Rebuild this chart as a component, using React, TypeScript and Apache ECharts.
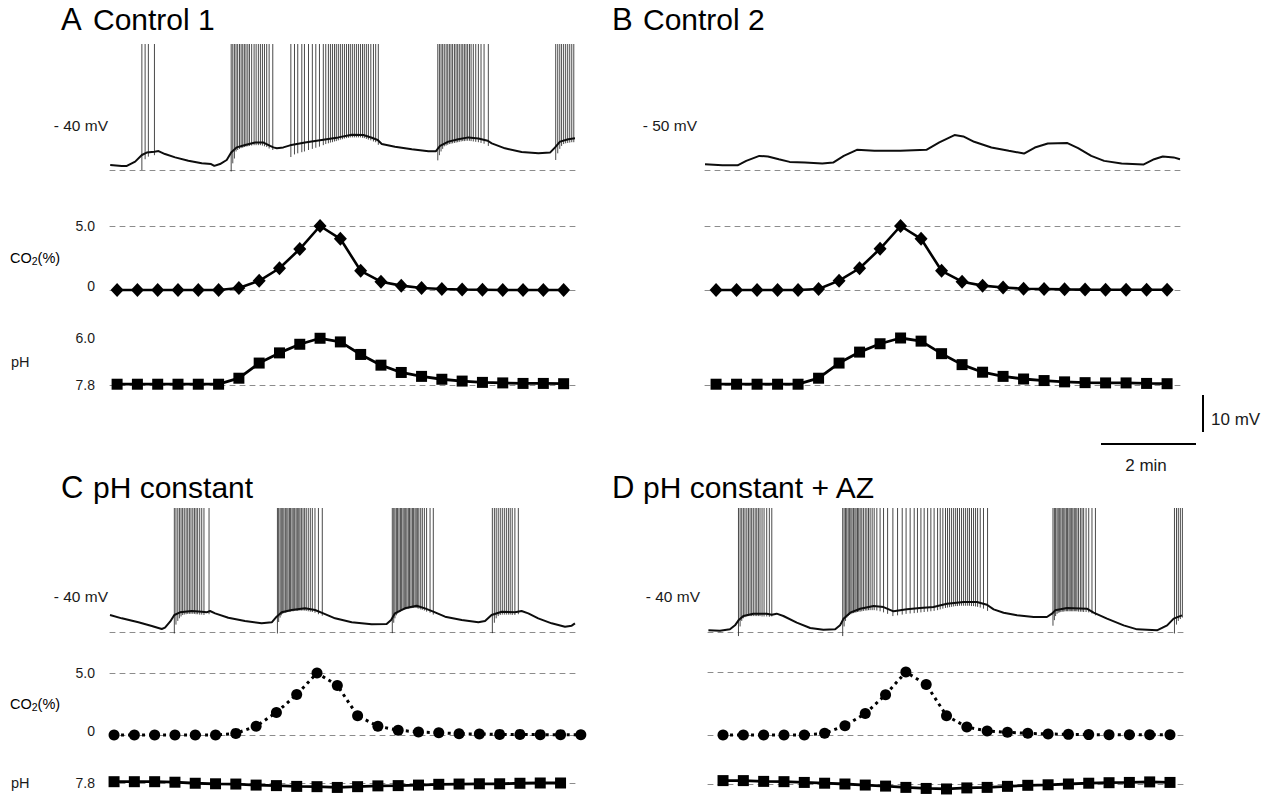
import React, { useEffect, useRef } from 'react';
import * as echarts from 'echarts';

// ---------- DATA (x in sample units: one CO2/pH reading per sample) ----------
// CO2 (%) readings
const co2A = [0, 0, 0, 0, 0, 0, 0.15, 0.72, 1.7, 3.2, 5.0, 4.0, 1.5, 0.65, 0.34, 0.16, 0.08, 0.04, 0.02, 0, 0, 0, 0];
const co2B = [0, 0, 0, 0, 0, 0.08, 0.73, 1.7, 3.22, 5.0, 4.0, 1.5, 0.65, 0.34, 0.2, 0.1, 0.08, 0.05, 0.03, 0.02, 0.02, 0.02, 0.02];
const co2C = [0, 0, 0, 0, 0, 0, 0.13, 0.71, 1.82, 3.26, 5.0, 4.0, 1.55, 0.71, 0.39, 0.24, 0.18, 0.1, 0.08, 0.05, 0.05, 0.03, 0.03, 0.02];
const co2D = [0, 0, 0, 0, 0, 0.13, 0.74, 1.7, 3.2, 5.0, 4.0, 1.53, 0.63, 0.32, 0.21, 0.13, 0.08, 0.05, 0.03, 0.02, 0.02, 0.02, 0.02];

// pH readings
const phA = [7.77, 7.77, 7.77, 7.77, 7.77, 7.77, 7.54, 6.96, 6.57, 6.24, 6.01, 6.15, 6.63, 7.04, 7.32, 7.47, 7.58, 7.65, 7.7, 7.72, 7.74, 7.74, 7.75];
const phB = [7.77, 7.77, 7.77, 7.77, 7.77, 7.54, 6.96, 6.54, 6.22, 6.0, 6.12, 6.6, 7.02, 7.31, 7.47, 7.57, 7.63, 7.68, 7.71, 7.72, 7.72, 7.74, 7.75];
const phC = [7.75, 7.75, 7.75, 7.77, 7.81, 7.83, 7.84, 7.88, 7.9, 7.93, 7.94, 7.97, 7.94, 7.91, 7.9, 7.88, 7.85, 7.84, 7.83, 7.83, 7.81, 7.8, 7.8];
const phD = [7.67, 7.67, 7.7, 7.71, 7.74, 7.77, 7.8, 7.84, 7.88, 7.93, 7.97, 7.99, 7.95, 7.93, 7.89, 7.85, 7.83, 7.8, 7.77, 7.75, 7.74, 7.72, 7.74];

// Membrane potential, slow envelope [sample, mV]
const envA = [[-0.34, -50.65], [0.23, -50.9], [0.48, -50.9], [0.89, -49.75], [1.22, -47.95], [1.46, -47.3], [1.84, -47.05], [2.04, -46.9], [2.36, -47.7], [2.86, -48.6], [3.51, -49.5], [4.17, -50.2], [4.63, -50.4], [4.79, -50.9], [5.07, -50.4], [5.4, -49.3], [5.62, -47.3], [5.89, -45.9], [6.31, -45.25], [6.8, -44.6], [7.21, -44.6], [7.54, -45.5], [7.7, -45.9], [7.87, -46.15], [8.19, -45.9], [8.52, -45.35], [9.26, -44.6], [10.08, -43.9], [10.9, -43.2], [11.56, -42.5], [12.13, -42.55], [12.55, -43.3], [12.84, -43.9], [13.04, -45.0], [13.69, -45.7], [14.52, -46.4], [15.34, -46.95], [15.7, -46.95], [15.91, -45.5], [16.32, -44.35], [16.81, -43.7], [17.31, -43.2], [17.8, -43.5], [18.26, -44.1], [18.46, -44.8], [19.11, -46.15], [19.93, -47.15], [20.76, -47.5], [21.33, -47.3], [21.58, -45.9], [21.82, -44.35], [22.23, -43.7], [22.56, -43.45]];
const envB = [[-0.54, -60.46], [0.31, -60.73], [1.05, -60.73], [1.47, -59.54], [2.11, -58.2], [2.53, -58.36], [3.06, -59.09], [3.59, -59.81], [4.33, -60.0], [5.18, -60.27], [5.71, -60.0], [6.23, -58.2], [6.87, -56.55], [7.72, -56.82], [8.99, -56.82], [10.26, -56.55], [10.89, -54.55], [11.63, -52.58], [12.06, -52.93], [12.59, -54.39], [13.43, -55.93], [14.28, -56.82], [15.02, -57.55], [15.55, -55.93], [16.18, -54.85], [17.14, -54.74], [17.66, -56.12], [18.3, -58.2], [18.93, -59.54], [19.78, -60.27], [20.84, -60.54], [21.37, -59.09], [21.79, -58.36], [22.32, -58.6], [22.63, -59.09]];
const envC = [[-0.2, -44.91], [0.38, -45.81], [1.2, -46.89], [1.86, -47.88], [2.35, -48.69], [2.51, -48.33], [2.76, -46.71], [2.97, -44.91], [3.25, -44.19], [3.83, -43.83], [4.32, -44.01], [4.56, -44.19], [4.73, -43.83], [4.98, -44.46], [5.63, -45.63], [6.45, -46.53], [7.27, -47.16], [7.77, -46.89], [8.01, -45.36], [8.26, -44.19], [8.75, -43.56], [9.41, -43.11], [9.9, -43.56], [10.31, -44.46], [10.89, -45.81], [11.71, -46.89], [12.69, -47.43], [13.43, -47.34], [13.65, -46.26], [13.84, -44.46], [14.33, -43.11], [14.91, -42.4], [15.32, -43.11], [15.73, -44.01], [16.31, -45.36], [17.13, -46.26], [17.95, -46.89], [18.28, -46.53], [18.6, -44.91], [19.1, -44.01], [19.75, -44.19], [20.08, -43.83], [20.41, -44.46], [20.9, -45.81], [21.56, -47.16], [22.22, -48.06], [22.55, -47.79], [22.71, -47.16]];
const envD = [[-0.72, -49.05], [-0.15, -49.14], [0.34, -48.78], [0.59, -47.7], [0.76, -46.35], [1.0, -45.18], [1.49, -44.55], [2.15, -44.55], [2.4, -44.82], [2.64, -44.55], [2.97, -45.18], [3.63, -46.98], [4.29, -48.42], [4.94, -48.87], [5.52, -48.78], [5.76, -47.7], [5.93, -45.9], [6.26, -44.28], [6.75, -43.21], [7.41, -42.49], [7.9, -42.76], [8.39, -43.92], [9.05, -43.38], [9.7, -43.03], [10.36, -42.76], [11.02, -41.86], [11.84, -41.41], [12.5, -41.41], [12.99, -42.13], [13.32, -43.38], [13.81, -44.28], [14.47, -45.0], [15.29, -45.45], [15.94, -45.45], [16.19, -44.55], [16.35, -43.65], [16.93, -43.03], [17.91, -43.21], [18.24, -44.28], [18.9, -45.9], [19.72, -47.7], [20.38, -48.78], [21.36, -49.05], [21.86, -47.7], [22.18, -45.9], [22.59, -45.0]];

// Action potentials [sample, trough mV]; each spike rises to the top of its trace
const spikesA = [
  [1.22, -52.0], [1.38, -49.1], [1.54, -48.4], [1.84, -48.0],
  [5.62, -52.4], [5.7, -50.2], [5.78, -48.9], [5.86, -47.0], [5.94, -46.6], [6.03, -46.3], [6.11, -46.1], [6.19, -46.0], [6.27, -45.8], [6.35, -45.7], [6.44, -45.6], [6.52, -45.5], [6.63, -45.4], [6.75, -45.3], [6.85, -45.3], [6.96, -45.3], [7.06, -45.3], [7.16, -45.4], [7.26, -45.6], [7.37, -45.8], [7.49, -46.2], [7.67, -46.6],
  [8.56, -48.5], [8.74, -47.8], [8.9, -47.5], [9.1, -47.2], [9.23, -47.0], [9.43, -46.6], [9.62, -46.3], [9.79, -46.0], [9.97, -45.7], [10.16, -45.3], [10.28, -45.0], [10.41, -44.8], [10.51, -44.6], [10.61, -44.5], [10.71, -44.3], [10.8, -44.2], [10.9, -44.0], [11.0, -43.8], [11.1, -43.7], [11.2, -43.5], [11.3, -43.4], [11.4, -43.3], [11.49, -43.2], [11.59, -43.2], [11.69, -43.2], [11.79, -43.2], [11.89, -43.2], [11.99, -43.2], [12.09, -43.3], [12.18, -43.4], [12.28, -43.6], [12.38, -43.8], [12.5, -44.0], [12.63, -44.3], [12.74, -44.5], [12.87, -45.2],
  [15.8, -49.4], [15.88, -48.0], [15.96, -47.0], [16.04, -46.3], [16.12, -45.6], [16.21, -45.4], [16.29, -45.2], [16.37, -45.0], [16.45, -44.9], [16.53, -44.8], [16.62, -44.7], [16.7, -44.6], [16.78, -44.5], [16.86, -44.4], [16.95, -44.3], [17.03, -44.2], [17.11, -44.2], [17.19, -44.1], [17.27, -44.1], [17.36, -44.1], [17.44, -44.2], [17.55, -44.3], [17.67, -44.4], [17.8, -44.5], [17.93, -44.7], [18.08, -44.9], [18.29, -45.5],
  [21.61, -49.3], [21.71, -47.5], [21.81, -46.3], [21.9, -45.5], [22.0, -45.0], [22.1, -44.8], [22.2, -44.7], [22.3, -44.6], [22.4, -44.5], [22.5, -44.5],
];
const spikesB: number[][] = [];
const spikesC = [
  [2.97, -49.9], [3.05, -47.5], [3.14, -46.5], [3.22, -45.8], [3.3, -45.3], [3.38, -44.9], [3.46, -44.8], [3.55, -44.7], [3.63, -44.6], [3.71, -44.6], [3.79, -44.6], [3.88, -44.6], [3.96, -44.6], [4.04, -44.7], [4.12, -44.7], [4.22, -44.8], [4.32, -44.8], [4.43, -44.9], [4.68, -44.7],
  [8.05, -49.9], [8.11, -46.8], [8.18, -45.6], [8.24, -45.0], [8.31, -44.6], [8.37, -44.4], [8.44, -44.3], [8.51, -44.2], [8.57, -44.1], [8.64, -44.0], [8.7, -44.0], [8.77, -43.9], [8.83, -43.9], [8.9, -43.8], [8.97, -43.8], [9.03, -43.8], [9.1, -43.7], [9.16, -43.7], [9.23, -43.7], [9.31, -43.7], [9.39, -43.7], [9.47, -43.8], [9.57, -43.9], [9.67, -44.0], [9.77, -44.1], [9.9, -44.3], [10.07, -44.7], [10.26, -45.1],
  [13.71, -49.8], [13.78, -47.0], [13.84, -45.8], [13.91, -45.0], [13.97, -44.5], [14.04, -44.2], [14.11, -44.0], [14.17, -43.8], [14.24, -43.6], [14.3, -43.5], [14.37, -43.4], [14.43, -43.3], [14.5, -43.2], [14.56, -43.1], [14.63, -43.1], [14.7, -43.0], [14.76, -43.0], [14.83, -43.0], [14.89, -43.0], [14.96, -43.1], [15.02, -43.2], [15.11, -43.4], [15.19, -43.5], [15.29, -43.7], [15.4, -44.0], [15.57, -44.3], [15.73, -44.8],
  [18.64, -49.8], [18.74, -47.0], [18.83, -45.8], [18.93, -45.2], [19.03, -44.9], [19.13, -44.8], [19.23, -44.8], [19.33, -44.8], [19.43, -44.8], [19.52, -44.8], [19.62, -44.9], [19.75, -44.9], [19.92, -44.7],
];
const spikesD = [
  [0.76, -50.6], [0.84, -48.0], [0.92, -46.5], [1.0, -45.8], [1.08, -45.5], [1.17, -45.3], [1.25, -45.2], [1.33, -45.2], [1.41, -45.2], [1.49, -45.2], [1.58, -45.2], [1.66, -45.2], [1.74, -45.2], [1.82, -45.2], [1.92, -45.3], [2.02, -45.3], [2.15, -45.3], [2.28, -45.4], [2.4, -45.3],
  [5.89, -50.6], [5.96, -48.0], [6.03, -46.5], [6.09, -45.6], [6.16, -45.2], [6.22, -44.9], [6.29, -44.7], [6.35, -44.5], [6.42, -44.4], [6.49, -44.3], [6.55, -44.2], [6.62, -44.1], [6.68, -44.0], [6.75, -44.0], [6.83, -43.9], [6.91, -43.8], [7.0, -43.7], [7.08, -43.7], [7.16, -43.6], [7.24, -43.6], [7.34, -43.6], [7.44, -43.6], [7.57, -43.7], [7.73, -43.9], [7.9, -44.2], [8.1, -44.6], [8.36, -45.2], [8.59, -45.0], [8.82, -44.8], [9.01, -44.6], [9.21, -44.5], [9.41, -44.4], [9.57, -44.3], [9.74, -44.2], [9.9, -44.1], [10.07, -44.0], [10.23, -43.9], [10.39, -43.8], [10.56, -43.6], [10.69, -43.4], [10.82, -43.2], [10.95, -43.0], [11.05, -42.9], [11.15, -42.8], [11.25, -42.7], [11.35, -42.6], [11.45, -42.5], [11.54, -42.5], [11.64, -42.4], [11.74, -42.4], [11.84, -42.4], [11.94, -42.4], [12.04, -42.4], [12.13, -42.4], [12.23, -42.5], [12.33, -42.5], [12.43, -42.6], [12.53, -42.7], [12.66, -42.9], [12.82, -43.2], [13.02, -43.8],
  [16.24, -47.8], [16.31, -46.3], [16.37, -45.2], [16.44, -44.6], [16.5, -44.3], [16.57, -44.2], [16.63, -44.1], [16.7, -44.0], [16.77, -44.0], [16.83, -43.9], [16.9, -43.9], [16.96, -43.9], [17.03, -43.9], [17.09, -43.9], [17.16, -43.9], [17.22, -43.9], [17.29, -43.9], [17.36, -43.9], [17.42, -43.9], [17.5, -44.0], [17.59, -44.0], [17.67, -44.0], [17.75, -44.1], [17.87, -44.1], [18.0, -44.2], [18.16, -44.5], [18.33, -45.0],
  [22.22, -49.9], [22.32, -47.5], [22.41, -46.5], [22.51, -46.0], [22.61, -45.6],
];

// Texts
const titles = [
  { letter: 'A', name: 'Control 1' },
  { letter: 'B', name: 'Control 2' },
  { letter: 'C', name: 'pH constant' },
  { letter: 'D', name: 'pH constant + AZ' },
];
const potentialLabels = ['- 40 mV', '- 50 mV', '- 40 mV', '- 40 mV'];
const potentialLabelValues = [-40, -50, -40, -40];

// ---------- LAYOUT ----------
const FONT = '"Liberation Sans", Arial, Helvetica, sans-serif';
const INK = '#0d0d0d';

const layouts = [
  { left: 110, width: 465, xMin: -0.35, xMax: 22.56, tTop: 44, tH: 126, vMin: -52, vMax: -18, vMargin: 2, cTop: 226, cH: 64, pTop: 338, pH: 47, co2Labels: true, phLabels: [6.0, 7.8], circles: false, tx: 61, wx: 93, ty: 19 },
  { left: 705, width: 475, xMin: -0.54, xMax: 22.63, tTop: 44, tH: 126, vMin: -62, vMax: -28, vMargin: 8, cTop: 226, cH: 64, pTop: 338, pH: 47, co2Labels: false, phLabels: [] as number[], circles: false, tx: 612, wx: 643, ty: 19 },
  { left: 110, width: 468, xMin: -0.2, xMax: 22.86, tTop: 508, tH: 124, vMin: -49.5, vMax: -16, vMargin: 2, cTop: 673, cH: 62, pTop: 736, pH: 47, co2Labels: true, phLabels: [7.8], circles: true, tx: 61, wx: 93, ty: 487 },
  { left: 708, width: 475, xMin: -0.74, xMax: 22.64, tTop: 508, tH: 124, vMin: -49.5, vMax: -16, vMargin: 8, cTop: 672, cH: 63, pTop: 737, pH: 47, co2Labels: false, phLabels: [] as number[], circles: true, tx: 612, wx: 643, ty: 487 },
];

const co2Sets = [co2A, co2B, co2C, co2D];
const phSets = [phA, phB, phC, phD];
const envSets = [envA, envB, envC, envD];
const spikeSets = [spikesA, spikesB, spikesC, spikesD];

function buildOption() {
  const grids: any[] = [];
  const xAxes: any[] = [];
  const yAxes: any[] = [];
  const series: any[] = [];
  const graphics: any[] = [];

  const dashed = { show: true, onZero: false, lineStyle: { color: '#8c8c8c', width: 1, type: [5, 5] } };
  const labelBase = { fontSize: 14, fontFamily: FONT, color: '#1a1a1a' };

  const addX = (gridIndex: number, L: any, position: string) => {
    xAxes.push({
      type: 'value', gridIndex, min: L.xMin, max: L.xMax, position,
      axisLine: dashed, axisTick: { show: false }, axisLabel: { show: false }, splitLine: { show: false },
    });
    return xAxes.length - 1;
  };

  layouts.forEach((L, p) => {
    // ---- trace grid
    const gT = grids.length;
    grids.push({ left: L.left, top: L.tTop, width: L.width, height: L.tH, containLabel: false, outerBoundsMode: 'none' });
    const xT = addX(gT, L, 'bottom');
    yAxes.push({
      type: 'value', gridIndex: gT, min: L.vMin, max: L.vMax,
      axisLine: { show: false }, axisTick: { show: false }, splitLine: { show: false },
      axisLabel: { ...labelBase, fontSize: 15.5, margin: L.vMargin, customValues: [potentialLabelValues[p]], formatter: () => potentialLabels[p] },
    });
    const yT = yAxes.length - 1;
    series.push({
      type: 'custom', xAxisIndex: xT, yAxisIndex: yT, silent: true, encode: { x: 0, y: 1 },
      data: spikeSets[p],
      renderItem: (params: any, api: any) => {
        const pt = api.coord([api.value(0), api.value(1)]);
        return {
          type: 'line',
          shape: { x1: pt[0], y1: pt[1], x2: pt[0], y2: params.coordSys.y },
          style: { stroke: '#1c1c1c', lineWidth: 0.8 },
        };
      },
      z: 2,
    });
    series.push({
      type: 'line', xAxisIndex: xT, yAxisIndex: yT, data: envSets[p], symbol: 'none', silent: true, clip: false,
      lineStyle: { color: INK, width: 2 }, z: 3,
    });

    // ---- CO2 grid
    const gC = grids.length;
    grids.push({ left: L.left, top: L.cTop, width: L.width, height: L.cH, containLabel: false, outerBoundsMode: 'none' });
    const xC = addX(gC, L, 'bottom');
    addX(gC, L, 'top');
    yAxes.push({
      type: 'value', gridIndex: gC, min: 0, max: 5,
      axisLine: { show: false }, axisTick: { show: false }, splitLine: { show: false },
      axisLabel: L.co2Labels
        ? {
            ...labelBase, margin: 15, customValues: [0, 5],
            formatter: (v: number) => (v === 0 ? '{z|0}' : '5.0'),
            rich: { z: { ...labelBase, padding: [0, 0, 9, 0] } },
          }
        : { show: false },
    });
    const yC = yAxes.length - 1;
    series.push({
      type: 'line', xAxisIndex: xC, yAxisIndex: yC, silent: true, clip: false,
      data: co2Sets[p].map((v, i) => [i, v]),
      symbol: L.circles ? 'circle' : 'diamond',
      symbolSize: L.circles ? 11 : [13, 14],
      itemStyle: { color: '#000' },
      lineStyle: L.circles ? { color: '#000', width: 3, type: [3, 4] } : { color: '#000', width: 2.6 },
      z: 3,
    });

    // ---- pH grid (inverted: acidic up)
    const gP = grids.length;
    grids.push({ left: L.left, top: L.pTop, width: L.width, height: L.pH, containLabel: false, outerBoundsMode: 'none' });
    const xP = addX(gP, L, 'bottom');
    yAxes.push({
      type: 'value', gridIndex: gP, min: 6.0, max: 7.8, inverse: true,
      axisLine: { show: false }, axisTick: { show: false }, splitLine: { show: false },
      axisLabel: L.phLabels.length
        ? { ...labelBase, margin: 15, customValues: L.phLabels, formatter: (v: number) => v.toFixed(1) }
        : { show: false },
    });
    const yP = yAxes.length - 1;
    series.push({
      type: 'line', xAxisIndex: xP, yAxisIndex: yP, silent: true, clip: false,
      data: phSets[p].map((v, i) => [i, v]),
      symbol: 'rect', symbolSize: 11,
      itemStyle: { color: '#000' },
      lineStyle: { color: '#000', width: 2.8 },
      z: 3,
    });

    // ---- titles
    graphics.push({
      type: 'text', silent: true,
      style: { text: titles[p].letter, x: L.tx, y: L.ty, fill: '#000', fontSize: 31, fontFamily: FONT, align: 'left', verticalAlign: 'middle', textAlign: 'left', textVerticalAlign: 'middle' },
    });
    graphics.push({
      type: 'text', silent: true,
      style: { text: titles[p].name, x: L.wx, y: L.ty, fill: '#000', fontSize: 30, fontFamily: FONT, align: 'left', verticalAlign: 'middle', textAlign: 'left', textVerticalAlign: 'middle' },
    });

    // ---- row labels (left column only)
    if (L.co2Labels) {
      graphics.push({
        type: 'text', silent: true,
        style: {
          text: '{a|CO}{b|2}{a|(%)}', x: 10, y: (L.cTop + L.cTop + L.cH) / 2, align: 'left', verticalAlign: 'middle', textAlign: 'left', textVerticalAlign: 'middle',
          rich: { a: { ...labelBase, fontSize: 14.5, lineHeight: 16 }, b: { ...labelBase, fontSize: 10.5, lineHeight: 16, verticalAlign: 'bottom' } },
        },
      });
      const phY = L.phLabels.length > 1 ? (L.pTop + L.pTop + L.pH) / 2 : L.pTop + L.pH;
      graphics.push({
        type: 'text', silent: true,
        style: { text: 'pH', x: 11, y: phY, ...labelBase, fontSize: 14.5, fill: '#1a1a1a', align: 'left', verticalAlign: 'middle', textAlign: 'left', textVerticalAlign: 'middle' },
      });
    }
  });

  // ---- scale bars
  graphics.push({ type: 'line', silent: true, shape: { x1: 1203, y1: 395, x2: 1203, y2: 432 }, style: { stroke: '#000', lineWidth: 2 } });
  graphics.push({ type: 'line', silent: true, shape: { x1: 1101, y1: 444, x2: 1196, y2: 444 }, style: { stroke: '#000', lineWidth: 2 } });
  graphics.push({
    type: 'text', silent: true,
    style: { text: '10 mV', x: 1211, y: 419, fontSize: 17, fontFamily: FONT, fill: '#1a1a1a', align: 'left', verticalAlign: 'middle', textAlign: 'left', textVerticalAlign: 'middle' },
  });
  graphics.push({
    type: 'text', silent: true,
    style: { text: '2 min', x: 1146, y: 465, fontSize: 17, fontFamily: FONT, fill: '#1a1a1a', align: 'center', verticalAlign: 'middle', textAlign: 'center', textVerticalAlign: 'middle' },
  });

  return {
    animation: false,
    backgroundColor: '#ffffff',
    grid: grids,
    xAxis: xAxes,
    yAxis: yAxes,
    series,
    graphic: { elements: graphics },
  };
}

export default function App() {
  const ref = useRef<HTMLDivElement>(null);
  useEffect(() => {
    document.body.style.margin = '0';
    document.body.style.overflow = 'hidden';
    const chart = echarts.init(ref.current as HTMLDivElement, undefined, { renderer: 'svg' });
    chart.setOption(buildOption() as any);
    return () => chart.dispose();
  }, []);
  return <div ref={ref} style={{ width: 1273, height: 797 }} />;
}
